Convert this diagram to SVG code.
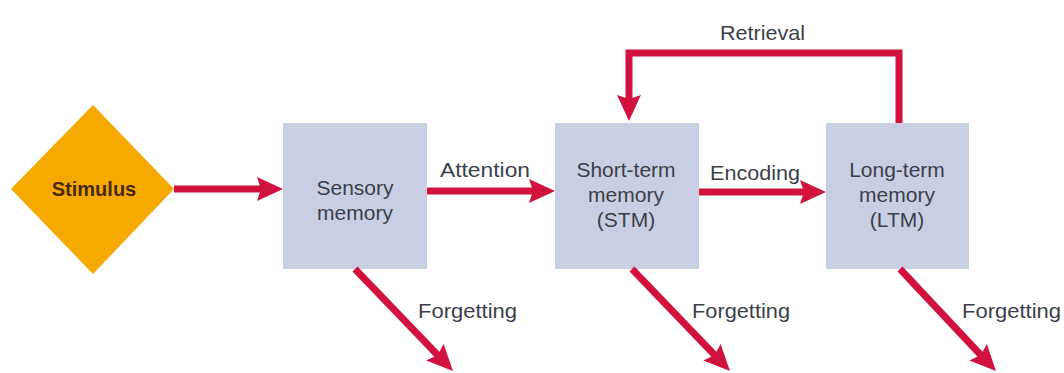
<svg xmlns="http://www.w3.org/2000/svg" width="1064" height="373" viewBox="0 0 1064 373">
  <style>
    .box { fill: #c9cfe2; }
    .lbl { font-family: "Liberation Sans", Arial, sans-serif; font-size: 21px; fill: #3b3f4a; text-anchor: middle; }
    .elbl { font-family: "Liberation Sans", Arial, sans-serif; font-size: 21px; fill: #3b3f4a; }
    .conn { fill: none; stroke: #d2123e; stroke-width: 7; marker-end: url(#ah); }
  </style>
  <defs>
    <marker id="ah" viewBox="0 0 26 24" refX="8" refY="12" markerWidth="26" markerHeight="24" markerUnits="userSpaceOnUse" orient="auto">
      <path d="M0,0 L26,12 L0,24 L4,12 z" fill="#d2123e"/>
    </marker>
  </defs>
  <rect width="1064" height="373" fill="#ffffff"/>

  <g id="stimulus">
    <polygon points="93,105 174,189 93,274 11,189" fill="#f6a900"/>
    <text x="94" y="196" style="font-family:'Liberation Sans',Arial,sans-serif;font-size:20px;font-weight:bold;fill:#4a2a10;text-anchor:middle">Stimulus</text>
  </g>

  <g id="sensory">
    <rect class="box" x="283" y="123" width="144" height="146"/>
    <text class="lbl" x="355" y="195">Sensory</text>
    <text class="lbl" x="355" y="220">memory</text>
  </g>

  <g id="stm">
    <rect class="box" x="555" y="123" width="144" height="146"/>
    <text class="lbl" x="626" y="177">Short-term</text>
    <text class="lbl" x="626" y="202">memory</text>
    <text class="lbl" x="626" y="227">(STM)</text>
  </g>

  <g id="ltm">
    <rect class="box" x="826" y="123" width="143" height="146"/>
    <text class="lbl" x="897" y="177">Long-term</text>
    <text class="lbl" x="897" y="202">memory</text>
    <text class="lbl" x="897" y="227">(LTM)</text>
  </g>

  <g id="connectors">
    <line class="conn" x1="174" y1="189" x2="265" y2="189"/>
    <line class="conn" x1="427" y1="191" x2="537" y2="191"/>
    <line class="conn" x1="699" y1="192" x2="808" y2="192"/>
    <path class="conn" d="M899,123 V53 H629 V103"/>
    <line class="conn" x1="355" y1="269" x2="440.5" y2="358"/>
    <line class="conn" x1="632" y1="269" x2="717.5" y2="358"/>
    <line class="conn" x1="900" y1="269" x2="983.6" y2="358"/>
  </g>

  <g id="labels">
    <text class="elbl" x="440" y="177" textLength="90" lengthAdjust="spacingAndGlyphs">Attention</text>
    <text class="elbl" x="710" y="180" textLength="90" lengthAdjust="spacingAndGlyphs">Encoding</text>
    <text class="elbl" x="720" y="40" textLength="85" lengthAdjust="spacingAndGlyphs">Retrieval</text>
    <text class="elbl" x="418" y="318" textLength="99" lengthAdjust="spacingAndGlyphs">Forgetting</text>
    <text class="elbl" x="692" y="318" textLength="98" lengthAdjust="spacingAndGlyphs">Forgetting</text>
    <text class="elbl" x="962" y="318" textLength="99" lengthAdjust="spacingAndGlyphs">Forgetting</text>
  </g>
</svg>
